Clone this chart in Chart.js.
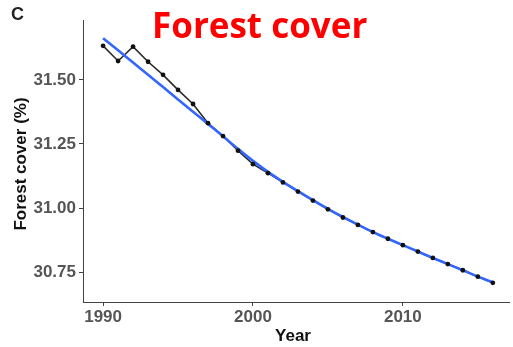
<!DOCTYPE html>
<html>
<head>
<meta charset="utf-8">
<script src="https://cdn.jsdelivr.net/npm/chart.js@4/dist/chart.umd.min.js"></script>
<style>
  html, body { margin: 0; padding: 0; background: #fff; }
  #wrap { width: 513px; height: 347px; position: relative; }
</style>
</head>
<body>
<div id="wrap"><canvas id="forestChart" width="513" height="347"></canvas></div>
<script>
// Datos
const years = [1990, 1991, 1992, 1993, 1994, 1995, 1996, 1997, 1998, 1999, 2000, 2001, 2002,
               2003, 2004, 2005, 2006, 2007, 2008, 2009, 2010, 2011, 2012, 2013, 2014, 2015, 2016];
const forestCover = [31.633, 31.574, 31.630, 31.571, 31.520, 31.461, 31.406, 31.331, 31.281,
                     31.224, 31.171, 31.136, 31.100, 31.064, 31.029, 30.995, 30.963, 30.934,
                     30.906, 30.880, 30.855, 30.830, 30.805, 30.781, 30.757, 30.732, 30.708];
const fitCover = [31.663, 31.616, 31.568, 31.520, 31.472, 31.424, 31.376, 31.328, 31.280,
                  31.231, 31.184, 31.141, 31.102, 31.066, 31.031, 30.997, 30.965, 30.935,
                  30.906, 30.880, 30.855, 30.830, 30.805, 30.781, 30.757, 30.732, 30.710];
const xTicks = [1990, 2000, 2010];
const yTicks = [30.75, 31.00, 31.25, 31.50];

const toPoints = arr => years.map((y, i) => ({ x: y, y: arr[i] }));

// Textos fuera del área de datos
const labelsPlugin = {
    id: 'labels',
    afterDraw(chart) {
        const ctx = chart.ctx;
        ctx.save();
        ctx.fillStyle = '#222';
        ctx.font = 'bold 18px "Liberation Sans", Arial, sans-serif';
        ctx.textBaseline = 'alphabetic';
        ctx.textAlign = 'left';
        ctx.fillText('C', 11, 20);

        ctx.fillStyle = '#ff0000';
        ctx.font = 'bold 35px "Open Sans", Lato, sans-serif';
        ctx.fillText('Forest cover', 152, 38);

        ctx.fillStyle = '#111';
        ctx.font = 'bold 17px "Liberation Sans", Arial, sans-serif';
        ctx.textAlign = 'center';
        ctx.fillText('Year', 293, 341);

        ctx.translate(26, 164);
        ctx.rotate(-Math.PI / 2);
        ctx.fillText('Forest cover (%)', 0, 0);
        ctx.restore();
    }
};

const ctx = document.getElementById('forestChart').getContext('2d');
new Chart(ctx, {
    type: 'line',
    data: {
        datasets: [
            {
                label: 'Observed line',
                data: toPoints(forestCover),
                borderColor: '#2a2a2a',
                borderWidth: 1.6,
                pointRadius: 0,
                order: 2
            },
            {
                label: 'Fit',
                data: toPoints(fitCover),
                borderColor: '#3366ff',
                borderWidth: 2.6,
                pointRadius: 0,
                cubicInterpolationMode: 'monotone',
                order: 1
            },
            {
                label: 'Observed',
                data: toPoints(forestCover),
                showLine: false,
                pointRadius: 2.4,
                pointBackgroundColor: '#111',
                pointBorderWidth: 0,
                order: 0
            }
        ]
    },
    options: {
        responsive: false,
        animation: false,
        layout: { padding: { top: 20, right: 0, left: 0, bottom: 0 } },
        plugins: { legend: { display: false }, tooltip: { enabled: false } },
        scales: {
            x: {
                type: 'linear',
                min: 1988.66,
                max: 2017.08,
                afterFit: s => { s.height = 45; },
                afterBuildTicks: s => { s.ticks = xTicks.map(v => ({ value: v })); },
                grid: { drawOnChartArea: false, color: '#444', tickLength: 4 },
                border: { display: true, color: '#444', width: 1 },
                ticks: {
                    color: '#555',
                    padding: 1,
                    maxRotation: 0,
                    font: { family: '"Liberation Sans", Arial, sans-serif', size: 17, weight: 'bold' },
                    callback: v => String(v)
                }
            },
            y: {
                min: 30.633,
                max: 31.734,
                afterFit: s => { s.width = 83; },
                afterBuildTicks: s => { s.ticks = yTicks.map(v => ({ value: v })); },
                grid: { drawOnChartArea: false, color: '#444', tickLength: 4 },
                border: { display: true, color: '#444', width: 1 },
                ticks: {
                    color: '#555',
                    padding: 3,
                    font: { family: '"Liberation Sans", Arial, sans-serif', size: 17, weight: 'bold' },
                    callback: v => v.toFixed(2)
                }
            }
        }
    },
    plugins: [labelsPlugin]
});
</script>
</body>
</html>
